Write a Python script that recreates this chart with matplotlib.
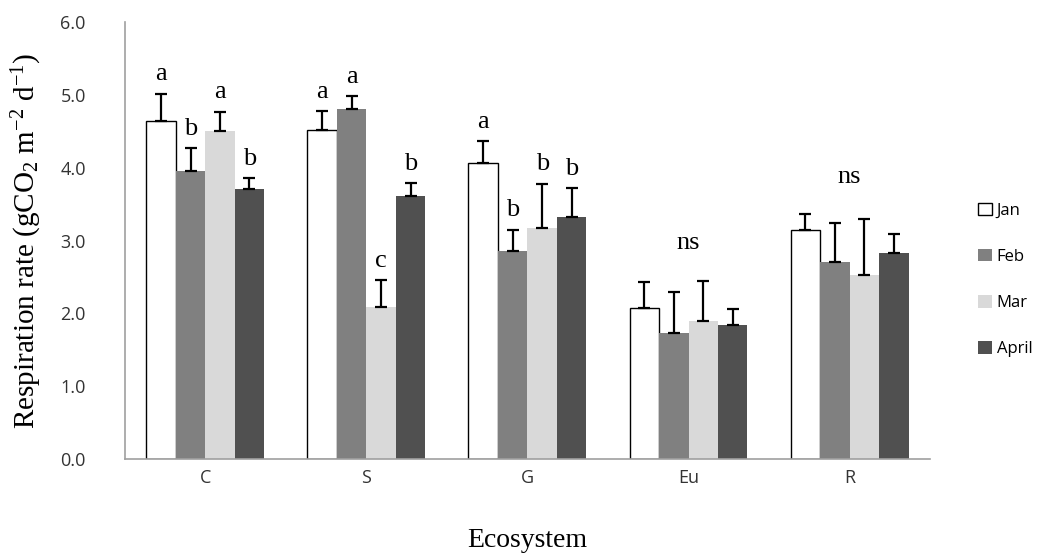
import numpy as np
import matplotlib
matplotlib.use("Agg")
import matplotlib.pyplot as plt

plt.rcParams["mathtext.fontset"] = "custom"
plt.rcParams["mathtext.rm"] = "Liberation Serif"
plt.rcParams["mathtext.it"] = "Liberation Serif:italic"
plt.rcParams["mathtext.default"] = "rm"

# data
ecosystems = ["C", "S", "G", "Eu", "R"]
months = ["Jan", "Feb", "Mar", "April"]
jan = [4.64, 4.52, 4.06, 2.08, 3.15]
feb = [3.96, 4.81, 2.86, 1.73, 2.71]
mar = [4.51, 2.09, 3.18, 1.89, 2.53]
apr = [3.71, 3.61, 3.32, 1.84, 2.83]
jan_err = [0.38, 0.26, 0.31, 0.35, 0.21]
feb_err = [0.31, 0.17, 0.29, 0.57, 0.53]
mar_err = [0.26, 0.37, 0.60, 0.56, 0.77]
apr_err = [0.15, 0.18, 0.40, 0.22, 0.26]
letters = [
    ["a", "b", "a", "b"],
    ["a", "a", "c", "b"],
    ["a", "b", "b", "b"],
    None,
    None,
]
group_labels = ["", "", "", "ns", "ns"]

colors = ["white", "#808080", "#d9d9d9", "#505050"]

fig = plt.figure(figsize=(10.57, 5.56), dpi=100)
ax = fig.add_axes([0.118, 0.1745, 0.762, 0.7855])

x = np.arange(len(ecosystems))
w = 0.183
series = [jan, feb, mar, apr]
errs = [jan_err, feb_err, mar_err, apr_err]

for i, (vals, err, col, name) in enumerate(zip(series, errs, colors, months)):
    pos = x + (i - 1.5) * w
    ax.bar(pos, vals, width=w, color=col,
           edgecolor="black" if i == 0 else col,
           linewidth=1.0 if i == 0 else 0, label=name, zorder=2)
    ax.errorbar(pos, vals, yerr=[np.zeros(len(vals)), err], fmt="none",
                ecolor="black", elinewidth=1.6, capsize=4, capthick=1.6, zorder=3)

serif = "Liberation Serif"
for g in range(len(ecosystems)):
    if letters[g] is not None:
        for i in range(4):
            top = series[i][g] + errs[i][g]
            ax.annotate(letters[g][i], (x[g] + (i - 1.5) * w, top),
                        xytext=(0, 6), textcoords="offset points",
                        ha="center", va="bottom", fontsize=19, family=serif)
    if group_labels[g]:
        top = max(series[i][g] + errs[i][g] for i in range(4))
        ax.annotate(group_labels[g], (x[g], top), xytext=(0, 19),
                    textcoords="offset points", ha="center", va="bottom",
                    fontsize=19, family=serif)

ax.set_xlim(-0.5, len(ecosystems) - 0.5)
ax.set_ylim(0, 6)
ax.set_yticks(np.arange(0, 6.1, 1.0))
ax.set_yticklabels([f"{v:.1f}" for v in np.arange(0, 6.1, 1.0)])
ax.set_xticks(x)
ax.set_xticklabels(ecosystems)
ax.tick_params(length=0, labelsize=13, colors="#333333")
for lab in ax.get_xticklabels() + ax.get_yticklabels():
    lab.set_family("Open Sans")
ax.tick_params(axis="x", pad=7)
ax.tick_params(axis="y", pad=28)

for s in ["top", "right"]:
    ax.spines[s].set_visible(False)
for s in ["left", "bottom"]:
    ax.spines[s].set_color("#a0a0a0")
    ax.spines[s].set_linewidth(1.2)

ax.set_ylabel("Respiration rate (gCO$_2$ m$^{-2}$ d$^{-1}$)", fontsize=21,
              family=serif, labelpad=12)
ax.set_xlabel("Ecosystem", fontsize=20, family=serif, labelpad=30)

leg = ax.legend(loc="center left", bbox_to_anchor=(1.06, 0.41), frameon=False,
                prop={"family": "Open Sans", "size": 12}, handlelength=0.8,
                handleheight=0.8, labelspacing=1.8, handletextpad=0.3,
                borderpad=0, borderaxespad=0)

fig.savefig("out.png", dpi=100)
